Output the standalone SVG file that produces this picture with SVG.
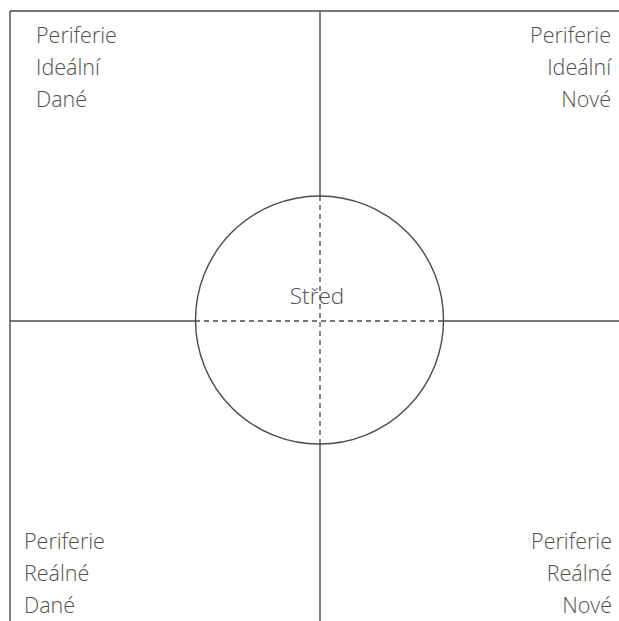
<svg xmlns="http://www.w3.org/2000/svg" width="619" height="621" viewBox="0 0 619 621">
<style>
.ln{stroke:#4a4a4a;stroke-width:1.4;fill:none}
.ds{stroke:#4a4a4a;stroke-width:1.3;fill:none;stroke-dasharray:5 4}
text{font-family:"Open Sans","Noto Sans","Liberation Sans",sans-serif;font-size:21.5px;font-weight:300;fill:#505050}
.r{text-anchor:end}
.m{text-anchor:middle;font-size:22.5px}
</style>
<rect width="619" height="621" fill="#fff"/>
<g id="connectors">
<line class="ln" x1="10" y1="11" x2="619" y2="11"/>
<line class="ln" x1="10" y1="11" x2="10" y2="621"/>
<line class="ln" x1="320" y1="11" x2="320" y2="196"/>
<line class="ln" x1="320" y1="444" x2="320" y2="621"/>
<line class="ln" x1="10" y1="321" x2="195" y2="321"/>
<line class="ln" x1="444" y1="321" x2="619" y2="321"/>
<line class="ds" x1="320" y1="196" x2="320" y2="444"/>
<line class="ds" x1="195" y1="321" x2="444" y2="321"/>
</g>
<g id="center">
<circle class="ln" cx="319.5" cy="320" r="124"/>
<text class="m" x="317" y="304">Střed</text>
</g>
<g id="top-left">
<text x="36" y="43">Periferie</text>
<text x="36" y="75">Ideální</text>
<text x="36" y="107">Dané</text>
</g>
<g id="top-right">
<text class="r" x="611" y="43">Periferie</text>
<text class="r" x="611" y="75">Ideální</text>
<text class="r" x="611" y="107">Nové</text>
</g>
<g id="bottom-left">
<text x="24" y="549">Periferie</text>
<text x="24" y="581">Reálné</text>
<text x="24" y="613">Dané</text>
</g>
<g id="bottom-right">
<text class="r" x="612" y="549">Periferie</text>
<text class="r" x="612" y="581">Reálné</text>
<text class="r" x="612" y="613">Nové</text>
</g>
</svg>
